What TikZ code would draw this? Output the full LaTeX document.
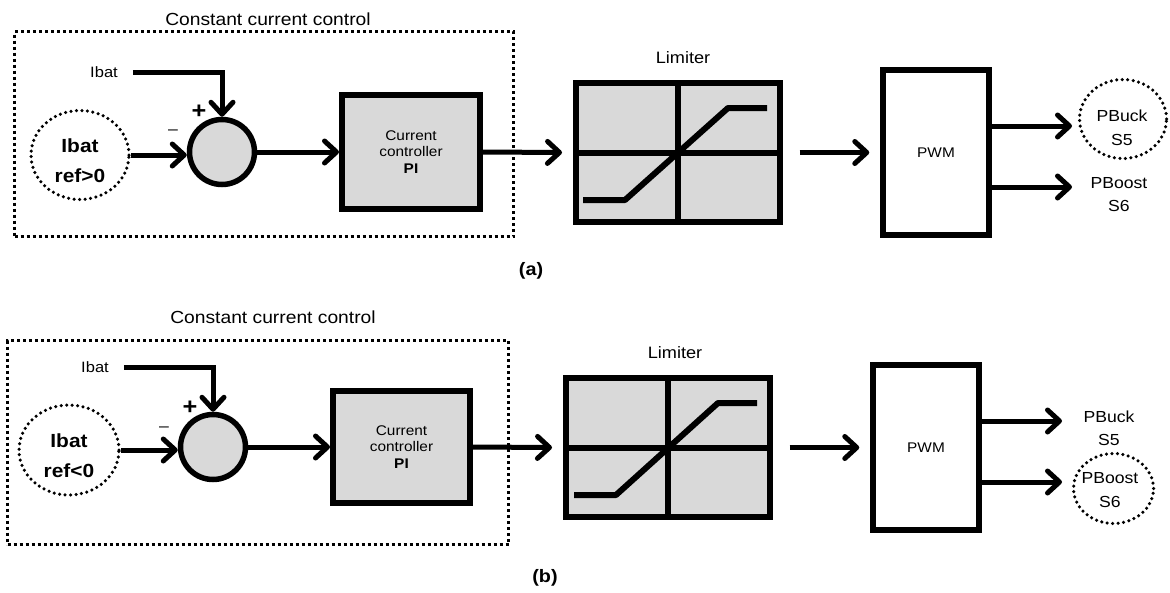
\documentclass[tikz,border=0pt]{standalone}
\usepackage{fontspec}
\setmainfont{Liberation Sans}[FakeStretch=1.1]
\usetikzlibrary{arrows.meta,shapes.geometric,calc}
\definecolor{boxgray}{HTML}{D9D9D9}
\begin{document}
\begin{tikzpicture}[x=1pt,y=-1pt,
  blk/.style={draw, line width=6pt, fill=boxgray, inner sep=0pt, align=center},
  whitebox/.style={draw, line width=6.5pt, fill=white, inner sep=0pt},
  sumc/.style={circle, draw, line width=5.5pt, fill=boxgray, minimum size=65pt, inner sep=0pt},
  dotell/.style={ellipse, draw, line width=3.5pt, dash pattern=on 0pt off 5.5pt, line cap=round, inner sep=0pt},
  dotbox/.style={draw, line width=3.2pt, dash pattern=on 3pt off 3pt, inner sep=0pt},
  arr/.style={line width=5pt, -{Straight Barb[length=12pt,width=22pt,round]}},
  lbl/.style={inner sep=0pt, font=\fontsize{15}{18}\selectfont},
  ttl/.style={inner sep=0pt, font=\fontsize{17.5}{21}\selectfont},
  reftxt/.style={inner sep=0pt, align=center, font=\bfseries\fontsize{19}{30}\selectfont},
  pitxt/.style={font=\fontsize{14}{16.5}\selectfont},
  outtxt/.style={inner sep=0pt, align=center, font=\fontsize{16}{23.5}\selectfont},
  plussty/.style={inner sep=0pt, font=\bfseries\fontsize{23}{23}\selectfont},
  minussty/.style={inner sep=0pt, font=\fontsize{16}{16}\selectfont},
  curve/.style={line width=6pt},
]
\fill[white] (0,0) rectangle (1170,592);
\useasboundingbox (0,0) rectangle (1170,592);

% ================= panel (a) =================
\node[dotbox, minimum width=499pt, minimum height=205pt] (boxA) at (264,134) {};
\node[ttl] (ttlA) at (268,19) {Constant current control};
\node[lbl] (ibatA) at (104,72) {Ibat};
\node[dotell, minimum width=98pt, minimum height=89pt] (refA) at (80,155) {};
\node[reftxt] (reftA) at (80,161) {Ibat\\ref>0};
\node[sumc] (sumA) at (222,152) {};
\node[plussty] (plusA) at (199,112) {+};
\node[minussty] (minusA) at (173,132) {–};
\node[blk, minimum width=138pt, minimum height=114pt, pitxt] (piA) at (411,152) {Current\\controller\\\textbf{PI}};
\node[blk, minimum width=204pt, minimum height=139pt] (limA) at (678,152.5) {};
\node[ttl, font=\fontsize{16.5}{20}\selectfont] (limtA) at (683,58) {Limiter};
\node[whitebox, minimum width=106pt, minimum height=165pt, font=\fontsize{14}{17}\selectfont] (pwmA) at (936,152.5) {PWM};
\node[dotell, minimum width=87pt, minimum height=79pt] (buckcA) at (1123,119) {};
\node[outtxt] (buckA) at (1122,128) {PBuck\\S5};
\node[outtxt] (boostA) at (1119,194.5) {PBoost\\S6};
\node[inner sep=0pt, font=\bfseries\fontsize{18}{21}\selectfont] (labA) at (531,271) {(a)};
\coordinate (oA1) at (1072,126);
\coordinate (oA2) at (1072,187);

\draw[arr] ([xshift=15pt]ibatA.east) -| (sumA.north);
\draw[arr] (refA.east) -- (refA.east -| sumA.west);
\draw[arr] (sumA.east) -- (piA.west);
\draw[arr] (piA.east) -- ([xshift=-11pt]limA.west);
\draw[curve] (limA.north) -- (limA.south);
\draw[curve] (limA.west) -- (limA.east);
\draw[curve, line join=round] ($(limA.center)+(-95,47.5)$) -- ++(42,0) -- ($(limA.center)+(50,-44.5)$) -- ++(39,0);
\draw[arr] ([xshift=16.5pt]limA.east) -- ([xshift=-10.5pt]pwmA.west);
\draw[arr] (pwmA.east |- oA1) -- (oA1);
\draw[arr] (pwmA.east |- oA2) -- (oA2);

% ================= panel (b) =================
\node[dotbox, minimum width=501pt, minimum height=204pt] (boxB) at (258,442.5) {};
\node[ttl] (ttlB) at (273,317) {Constant current control};
\node[lbl] (ibatB) at (95,367) {Ibat};
\node[dotell, minimum width=100pt, minimum height=90pt] (refB) at (69,450) {};
\node[reftxt] (reftB) at (69,456) {Ibat\\ref<0};
\node[sumc] (sumB) at (213,447) {};
\node[plussty] (plusB) at (190,408) {+};
\node[minussty] (minusB) at (164,429) {–};
\node[blk, minimum width=137pt, minimum height=112pt, pitxt] (piB) at (401.5,447) {Current\\controller\\\textbf{PI}};
\node[blk, minimum width=204pt, minimum height=139pt] (limB) at (668,447.5) {};
\node[ttl, font=\fontsize{16.5}{20}\selectfont] (limtB) at (675,353) {Limiter};
\node[whitebox, minimum width=106pt, minimum height=165pt, font=\fontsize{14}{17}\selectfont] (pwmB) at (926,447.5) {PWM};
\node[outtxt] (buckB) at (1109,428.5) {PBuck\\S5};
\node[dotell, minimum width=80pt, minimum height=70pt] (boostcB) at (1113.5,488.5) {};
\node[outtxt] (boostB) at (1110,490) {PBoost\\S6};
\node[inner sep=0pt, font=\bfseries\fontsize{18}{21}\selectfont] (labB) at (545,578) {(b)};
\coordinate (oB1) at (1062,421);
\coordinate (oB2) at (1062,482);

\draw[arr] ([xshift=15pt]ibatB.east) -| (sumB.north);
\draw[arr] (refB.east) -- (refB.east -| sumB.west);
\draw[arr] (sumB.east) -- (piB.west);
\draw[arr] (piB.east) -- ([xshift=-11pt]limB.west);
\draw[curve] (limB.north) -- (limB.south);
\draw[curve] (limB.west) -- (limB.east);
\draw[curve, line join=round] ($(limB.center)+(-94,47.5)$) -- ++(42,0) -- ($(limB.center)+(50,-44.5)$) -- ++(39,0);
\draw[arr] ([xshift=16.5pt]limB.east) -- ([xshift=-10.5pt]pwmB.west);
\draw[arr] (pwmB.east |- oB1) -- (oB1);
\draw[arr] (pwmB.east |- oB2) -- (oB2);
\end{tikzpicture}
\end{document}
